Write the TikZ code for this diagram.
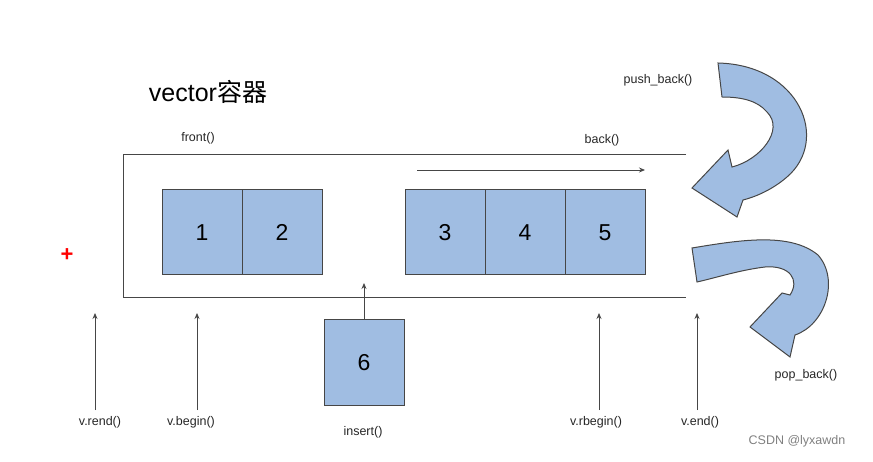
\documentclass[tikz,border=0pt]{standalone}
\usepackage{fontspec}
\setmainfont{Liberation Sans}
\newfontfamily\cjk{Noto Sans CJK SC}
\usetikzlibrary{arrows.meta}
\definecolor{bx}{RGB}{160,189,226}
\definecolor{ln}{RGB}{70,70,70}
\begin{document}
\begin{tikzpicture}[x=1pt,y=-1pt,
  cell/.style={draw=ln,fill=bx,line width=1pt,minimum width=80pt,minimum height=85pt,font=\fontsize{23}{24}\selectfont,inner sep=0},
  lbl/.style={font=\fontsize{12.5}{14}\selectfont,text=black!85},
  up/.style={draw=ln,line width=0.8pt,-{Stealth[length=6pt,width=5pt]}},
  big/.style={draw=ln,fill=bx,line width=1pt}]
\useasboundingbox (0,0) rectangle (873,462);
\node[font=\fontsize{25}{27}\selectfont] (title) at (208,92) {vector{\cjk 容器}};
\node[text=red,font=\fontsize{22}{24}\selectfont\bfseries] (plus) at (67,255) {+};
\draw[ln,line width=1pt] (686,155) -- (123,155) -- (123,298) -- (686,298);
\node[cell] (c1) at (202,232.5) {1};
\node[cell] (c2) at (282,232.5) {2};
\node[cell] (c3) at (445,232.5) {3};
\node[cell] (c4) at (525,232.5) {4};
\node[cell] (c5) at (605,232.5) {5};
\node[cell,minimum height=85pt] (c6) at (364,362.5) {6};
\coordinate (ba) at (417,170); \coordinate (bb) at (645,170);
\draw[up] (ba) -- (bb);
\node[lbl] (front) at (198,138) {front()};
\node[lbl] (back) at (602,140) {back()};
\node[lbl] (push) at (658,80) {push\_back()};
\node[lbl] (pop) at (806,375) {pop\_back()};
\node[lbl] (rend) at (100,422) {v.rend()};
\node[lbl] (begin) at (191,422) {v.begin()};
\node[lbl] (ins) at (363,432) {insert()};
\node[lbl] (rbegin) at (596,422) {v.rbegin()};
\node[lbl] (vend) at (700,422) {v.end()};
\coordinate (u1) at (95,313); \coordinate (u2) at (197,313);
\coordinate (u4) at (599,313); \coordinate (u5) at (697,313);
\draw[up] (95,410) -- (u1);
\draw[up] (197,410) -- (u2);
\draw[up] (599,410) -- (u4);
\draw[up] (697,410) -- (u5);
\coordinate (u3) at (364,283);
\draw[up] (c6.north) -- (u3);
\node[font=\fontsize{12.5}{13}\selectfont,text=gray] (csdn) at (797,441) {CSDN @lyxawdn};
\draw[big] (718,63) .. controls (800,65) and (830,140) .. (787,177)
  .. controls (772,190) and (755,197) .. (743,200) -- (737,217) -- (692,188) -- (728,150) -- (732,167)
  .. controls (760,160) and (785,130) .. (767,112) .. controls (757,100) and (740,97) .. (722,97) -- cycle;
\draw[big] (692,248) .. controls (740,240) and (790,232) .. (818,255)
  .. controls (840,280) and (825,325) .. (795,335) -- (790,357) -- (750,327) -- (782,293) -- (790,295)
  .. controls (800,280) and (790,265) .. (765,267) .. controls (740,270) and (715,278) .. (697,282) -- cycle;
\end{tikzpicture}
\end{document}
